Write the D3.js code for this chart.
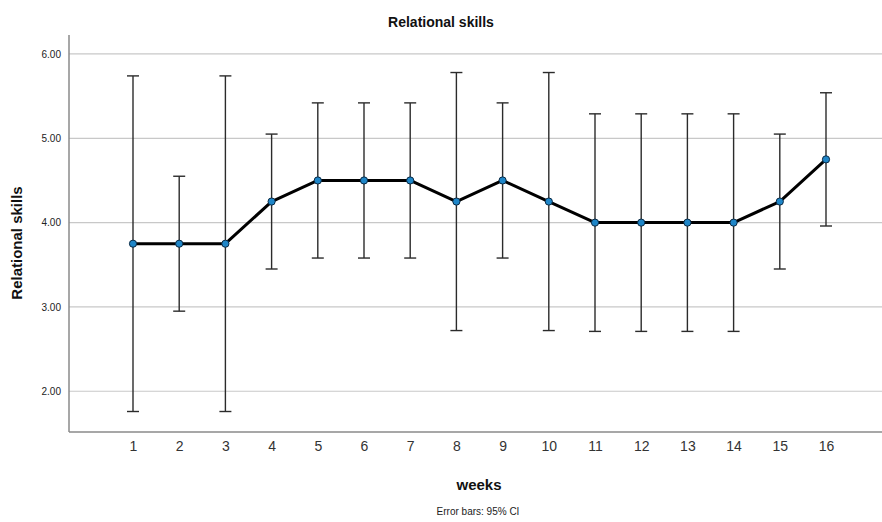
<!DOCTYPE html>
<html>
<head>
<meta charset="utf-8">
<script src="https://cdn.jsdelivr.net/npm/d3@7"></script>
<style>
  html, body { margin: 0; padding: 0; background: #fff; }
  svg { display: block; font-family: "Liberation Sans", Arial, sans-serif; }
</style>
</head>
<body>
<svg id="chart" width="882" height="522"></svg>
<script>
// Weekly mean scores with 95% confidence limits
const weeks = [1, 2, 3, 4, 5, 6, 7, 8, 9, 10, 11, 12, 13, 14, 15, 16];
const means = [3.75, 3.75, 3.75, 4.25, 4.50, 4.50, 4.50, 4.25, 4.50, 4.25, 4.00, 4.00, 4.00, 4.00, 4.25, 4.75];
const ciLow = [1.76, 2.95, 1.76, 3.45, 3.58, 3.58, 3.58, 2.72, 3.58, 2.72, 2.71, 2.71, 2.71, 2.71, 3.45, 3.96];
const ciHigh = [5.74, 4.55, 5.74, 5.05, 5.42, 5.42, 5.42, 5.78, 5.42, 5.78, 5.29, 5.29, 5.29, 5.29, 5.05, 5.54];
const yTicks = [2, 3, 4, 5, 6];

const svg = d3.select("#chart");
const plot = { left: 69, right: 882, top: 35, bottom: 432 };

const x = d3.scaleLinear().domain([1, 16]).range([133, 826]);
const y = d3.scaleLinear().domain([1.517, 6.225]).range([plot.bottom, plot.top]);

// Horizontal gridlines
svg.append("g")
  .selectAll("line")
  .data(yTicks)
  .join("line")
  .attr("x1", plot.left).attr("x2", plot.right)
  .attr("y1", d => y(d)).attr("y2", d => y(d))
  .attr("stroke", "#c8c8c8").attr("stroke-width", 1.2);

// Y axis
const yAxis = d3.axisLeft(y).tickValues(yTicks).tickFormat(d3.format(".2f")).tickSize(0).tickPadding(8);
const gy = svg.append("g").attr("transform", `translate(${plot.left},0)`).call(yAxis);
gy.select(".domain").remove();
gy.selectAll("text").attr("font-size", 10).attr("fill", "#222");
svg.append("line")
  .attr("x1", plot.left).attr("x2", plot.left)
  .attr("y1", plot.top).attr("y2", plot.bottom)
  .attr("stroke", "#8a8a8a").attr("stroke-width", 1.5);

// X axis
const xAxis = d3.axisBottom(x).tickValues(weeks).tickFormat(d3.format("d")).tickSize(0).tickPadding(9);
const gx = svg.append("g").attr("transform", `translate(0,${plot.bottom})`).call(xAxis);
gx.select(".domain").remove();
gx.selectAll("text").attr("font-size", 14).attr("fill", "#333");
svg.append("line")
  .attr("x1", plot.left).attr("x2", plot.right)
  .attr("y1", plot.bottom).attr("y2", plot.bottom)
  .attr("stroke", "#8a8a8a").attr("stroke-width", 1.5);

// Error bars
const rows = weeks.map((w, i) => ({ w, m: means[i], lo: ciLow[i], hi: ciHigh[i] }));
const eb = svg.append("g").attr("stroke", "#2b2b2b").attr("stroke-width", 1.4);
eb.selectAll("line.stem").data(rows).join("line").attr("class", "stem")
  .attr("x1", d => x(d.w)).attr("x2", d => x(d.w))
  .attr("y1", d => y(d.lo)).attr("y2", d => y(d.hi));
eb.selectAll("line.capHi").data(rows).join("line").attr("class", "capHi")
  .attr("x1", d => x(d.w) - 6).attr("x2", d => x(d.w) + 6)
  .attr("y1", d => y(d.hi)).attr("y2", d => y(d.hi));
eb.selectAll("line.capLo").data(rows).join("line").attr("class", "capLo")
  .attr("x1", d => x(d.w) - 6).attr("x2", d => x(d.w) + 6)
  .attr("y1", d => y(d.lo)).attr("y2", d => y(d.lo));

// Mean line
svg.append("path")
  .datum(rows)
  .attr("fill", "none")
  .attr("stroke", "#000")
  .attr("stroke-width", 3)
  .attr("stroke-linejoin", "round")
  .attr("d", d3.line().x(d => x(d.w)).y(d => y(d.m)));

// Mean markers
svg.append("g").selectAll("circle").data(rows).join("circle")
  .attr("cx", d => x(d.w)).attr("cy", d => y(d.m)).attr("r", 3.6)
  .attr("fill", "#1f86c8").attr("stroke", "#0b2a44").attr("stroke-width", 1);

// Titles
svg.append("text").attr("x", 441).attr("y", 27).attr("text-anchor", "middle")
  .attr("font-size", 14).attr("font-weight", "bold").attr("fill", "#111")
  .text("Relational skills");
svg.append("text").attr("transform", "translate(22,243) rotate(-90)").attr("text-anchor", "middle")
  .attr("font-size", 15).attr("font-weight", "bold").attr("fill", "#111")
  .text("Relational skills");
svg.append("text").attr("x", 479).attr("y", 490).attr("text-anchor", "middle")
  .attr("font-size", 15).attr("font-weight", "bold").attr("fill", "#111")
  .text("weeks");
svg.append("text").attr("x", 478).attr("y", 515).attr("text-anchor", "middle")
  .attr("font-size", 10).attr("fill", "#222")
  .text("Error bars: 95% CI");
</script>
</body>
</html>
